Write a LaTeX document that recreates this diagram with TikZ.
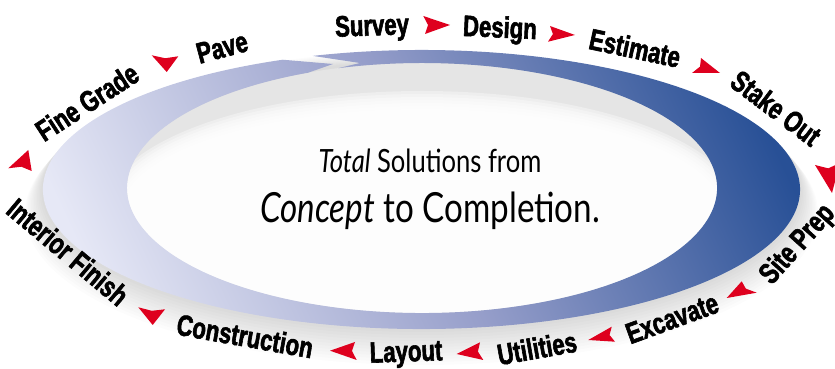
\documentclass[tikz,border=0pt]{standalone}
\usepackage{fontspec}
\usetikzlibrary{calc}
\newfontfamily\stagefont{Liberation Sans}[FakeStretch=0.75,FakeBold=2]
\newfontfamily\mottofont{Lato}[FakeStretch=0.8]
\definecolor{ringdark}{RGB}{40,80,150}
\definecolor{ringmid}{RGB}{150,158,202}
\definecolor{ringlight}{RGB}{230,232,246}
\definecolor{dartred}{RGB}{222,0,30}
\tikzset{
  stagelabel/.style={font=\stagefont\bfseries\fontsize{29.5}{29.5}\selectfont,
    inner sep=0pt, text height=21pt, text depth=0pt},
  motto/.style={font=\mottofont\fontsize{32}{32}\selectfont,
    inner sep=0pt, anchor=base},
  mottobig/.style={motto, font=\mottofont\fontsize{41.5}{41.5}\selectfont},
}

\begin{document}
\begin{tikzpicture}[x=1pt,y=1pt]
  \useasboundingbox (0,0) rectangle (835,369);

  % soft shadow under the ring
  \foreach \k in {1,...,12}
    \fill[black, opacity=0.012] (421.5,179.5-2*\k) ellipse [x radius=378.5+1.5*\k, y radius=139.5+\k];

  % dish inside the ring
  \begin{scope}
    \clip (422,181) ellipse [x radius=295, y radius=125];
    \fill[black!10] (422,181) ellipse [x radius=295, y radius=125];
    \foreach \k in {0,...,11}
      \fill[white, opacity=0.35] (422,158) ellipse [x radius=318-3*\k, y radius=120-3*\k];
  \end{scope}

  % the ring, tail notch at the top
  \shade[top color=ringdark, bottom color=ringlight, middle color=ringmid, shading angle=-65]
    (312.7,313.1) arc[start angle=106.7, end angle=-248.5, x radius=378.5, y radius=139.5]
    -- (333,305) -- (308.2,296.3)
    arc[start angle=-247.3, end angle=106.5, x radius=295, y radius=125]
    -- (360,306) -- cycle;

  % stages
  \node[stagelabel, rotate=2]     (survey)       at (372,344) {Survey};
  \node[stagelabel, rotate=-2.5]  (design)       at (500,342) {Design};
  \node[stagelabel, rotate=-12]   (estimate)     at (635,321) {Estimate};
  \node[stagelabel, rotate=-37]   (stakeout)     at (776,261) {Stake Out};
  \node[stagelabel, rotate=48]    (siteprep)     at (796,126) {Site Prep};
  \node[stagelabel, rotate=20]    (excavate)     at (672,51)  {Excavate};
  \node[stagelabel, rotate=10]    (utilities)    at (537,21)  {Utilities};
  \node[stagelabel, rotate=2]     (layout)       at (406,18)  {Layout};
  \node[stagelabel, rotate=-10]   (construction) at (245,33)  {Construction};
  \node[stagelabel, rotate=-40]   (interior)     at (68,117)  {Interior Finish};
  \node[stagelabel, rotate=33]    (finegrade)    at (87,267)  {Fine Grade};
  \node[stagelabel, rotate=15]    (pave)         at (222,322) {Pave};

  % red darts between stages
  \foreach \ax/\ay/\bx/\by/\cx/\cy in {
      423.3/353/450/344/425/335,
      550/343/575/334/548/327.3,
      701/311/720/296/692/296,
      815/204/832/176/840/206,
      741.7/87.7/726.7/71/756.7/76.3,
      611.7/42.3/588.3/29/615/27.3,
      480/26.7/456.7/15/483.3/9,
      355/27/330/18.3/356.7/9,
      138.3/61.7/152.7/44/165/59.7,
      31.7/198/28.3/219/8.3/200.7,
      151.7/313.7/166.7/297/178.3/312.7}
    \fill[dartred] (\ax,\ay) -- (\bx,\by) -- (\cx,\cy)
      -- ($(\ax,\ay)!.5!(\cx,\cy)!.15!(\bx,\by)$) -- cycle;

  % motto
  \node[motto]    (line1) at (430,196) {\textit{Total} Solutions from};
  \node[mottobig] (line2) at (430,146) {\textit{Concept} to Completion.};
\end{tikzpicture}
\end{document}
